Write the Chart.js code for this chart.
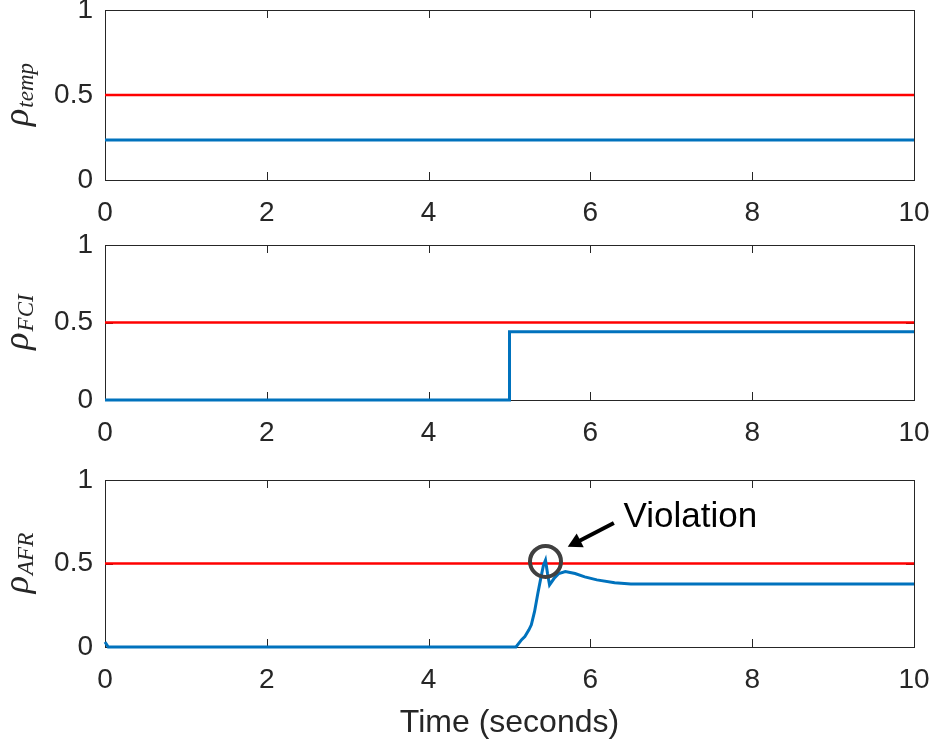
<!DOCTYPE html>
<html>
<head>
<meta charset="utf-8">
<script src="https://cdn.jsdelivr.net/npm/chart.js@4.4.1/dist/chart.umd.min.js"></script>
<style>
  html, body { margin: 0; background: #fff; }
  #wrap { position: relative; width: 933px; height: 751px; }
  canvas { position: absolute; left: 0; }
</style>
</head>
<body>
<div id="wrap">
  <canvas id="temp-chart" width="933" height="230" style="top:0"></canvas>
  <canvas id="fci-chart" width="933" height="220" style="top:230px"></canvas>
  <canvas id="afr-chart" width="933" height="301" style="top:450px"></canvas>
</div>
<script>
"use strict";

// Robustness of three requirements over a 10 s run; red = 0.5 threshold.
const THRESHOLD_T = [0, 10];
const THRESHOLD = [0.5, 0.5];

const TEMP_T = [0, 10];
const TEMP_RHO = [0.235, 0.235];

const FCI_T = [0, 5, 5, 10];
const FCI_RHO = [0, 0, 0.44, 0.44];

const AFR_T = [0, 0.04, 5.08, 5.15, 5.19, 5.24, 5.27, 5.31, 5.35, 5.39, 5.42, 5.445,
  5.47, 5.495, 5.55, 5.61, 5.69, 5.81, 5.93, 6.08, 6.3, 6.5, 10];
const AFR_RHO = [0.03, 0, 0, 0.044, 0.063, 0.103, 0.133, 0.213, 0.32, 0.42, 0.49, 0.52,
  0.44, 0.372, 0.41, 0.44, 0.452, 0.44, 0.42, 0.402, 0.385, 0.377, 0.377];

const TIME_MIN = 0;
const TIME_MAX = 10;
const X_TICK_STEP = 2;
const Y_TICK_STEP = 0.5;

// annotation anchors in data units (time, rho)
const VIOLATION_AT = [5.445, 0.512];
const ARROW_FROM = [6.29, 0.743];
const ARROW_TO = [5.72, 0.6];
const VIOLATION_TEXT_AT = [6.41, 0.775];

const BLUE = "#0072BD";
const RED = "#FF0000";
const AXIS = "#262626";

Chart.defaults.font.family = "'Liberation Sans', Arial, Helvetica, sans-serif";
Chart.defaults.color = AXIS;

function el(id) {
  return document.getElementById(id);
}

function series(t, v, color, width) {
  return {
    data: t.map((x, i) => ({ x, y: v[i] })),
    borderColor: color,
    borderWidth: width,
    pointRadius: 0,
    tension: 0,
    fill: false,
    clip: 4,
  };
}

// MATLAB-style inward tick marks on all four sides
const inwardTicks = {
  id: "inwardTicks",
  beforeDatasetsDraw(chart) {
    const { ctx, chartArea: a, scales: { x, y } } = chart;
    const len = 8;
    ctx.save();
    ctx.strokeStyle = AXIS;
    ctx.lineWidth = 1;
    ctx.beginPath();
    x.ticks.forEach((t) => {
      const p = Math.round(x.getPixelForValue(t.value)) + 0.5;
      ctx.moveTo(p, a.bottom); ctx.lineTo(p, a.bottom - len);
      ctx.moveTo(p, a.top); ctx.lineTo(p, a.top + len);
    });
    y.ticks.forEach((t) => {
      const p = Math.round(y.getPixelForValue(t.value)) + 0.5;
      ctx.moveTo(a.left, p); ctx.lineTo(a.left + len, p);
      ctx.moveTo(a.right, p); ctx.lineTo(a.right - len, p);
    });
    ctx.stroke();
    ctx.restore();
  },
};

// rotated rho label with italic subscript, centred on the plot area
const rhoLabel = {
  id: "rhoLabel",
  afterDraw(chart, args, opts) {
    const { ctx, chartArea } = chart;
    const mid = (chartArea.top + chartArea.bottom) / 2;
    const big = "italic 36px 'Liberation Serif', serif";
    const small = "italic 23px 'Liberation Serif', serif";
    ctx.save();
    ctx.translate(28, mid);
    ctx.rotate(-Math.PI / 2);
    ctx.fillStyle = AXIS;
    ctx.textBaseline = "alphabetic";
    ctx.font = big;
    const w1 = ctx.measureText("ρ").width;
    ctx.font = small;
    const w2 = ctx.measureText(opts.sub).width;
    const x0 = -(w1 + w2) / 2;
    ctx.font = big;
    ctx.fillText("ρ", x0, 0);
    ctx.font = small;
    ctx.fillText(opts.sub, x0 + w1 + 1, 5);
    ctx.restore();
  },
};

const violationMark = {
  id: "violationMark",
  afterDatasetsDraw(chart) {
    const { ctx, scales: { x, y } } = chart;
    const px = (p) => [x.getPixelForValue(p[0]), y.getPixelForValue(p[1])];
    ctx.save();
    const [cx, cy] = px(VIOLATION_AT);
    ctx.strokeStyle = "#404040";
    ctx.lineWidth = 4;
    ctx.beginPath();
    ctx.arc(cx, cy, 15.5, 0, Math.PI * 2);
    ctx.stroke();

    const [ax, ay] = px(ARROW_FROM);
    const [bx, by] = px(ARROW_TO);
    const ang = Math.atan2(by - ay, bx - ax);
    const head = 16;
    ctx.strokeStyle = "#000";
    ctx.fillStyle = "#000";
    ctx.lineWidth = 4;
    ctx.beginPath();
    ctx.moveTo(ax, ay);
    ctx.lineTo(bx - head * 0.8 * Math.cos(ang), by - head * 0.8 * Math.sin(ang));
    ctx.stroke();
    ctx.beginPath();
    ctx.moveTo(bx, by);
    ctx.lineTo(bx - head * Math.cos(ang - 0.5), by - head * Math.sin(ang - 0.5));
    ctx.lineTo(bx - head * Math.cos(ang + 0.5), by - head * Math.sin(ang + 0.5));
    ctx.closePath();
    ctx.fill();

    const [tx, ty] = px(VIOLATION_TEXT_AT);
    ctx.font = "35px 'Liberation Sans', Arial, sans-serif";
    ctx.textAlign = "left";
    ctx.textBaseline = "middle";
    ctx.fillText("Violation", tx, ty);
    ctx.restore();
  },
};

function fixSize(w, h) {
  return (s) => {
    if (w !== null) s.width = w;
    if (h !== null) s.height = h;
    s.paddingTop = 0; s.paddingBottom = 0; s.paddingLeft = 0; s.paddingRight = 0;
  };
}

function axisOpts(extra) {
  return Object.assign({
    type: "linear",
    grid: { display: false, drawTicks: false, tickLength: 0 },
    border: { display: true, color: AXIS, width: 1 },
  }, extra);
}

function makePanel(id, t, v, sub, padTop, xHeight, withTitle, extraPlugins) {
  const ticksFont = { size: 28 };
  return new Chart(el(id), {
    type: "line",
    data: {
      datasets: [series(t, v, BLUE, 3), series(THRESHOLD_T, THRESHOLD, RED, 2.5)],
    },
    options: {
      responsive: false,
      animation: false,
      events: [],
      layout: { padding: { top: padTop, right: 19, bottom: 0, left: 0 } },
      plugins: {
        legend: { display: false },
        tooltip: { enabled: false },
        rhoLabel: { sub },
      },
      scales: {
        x: axisOpts({
          position: "bottom",
          min: TIME_MIN, max: TIME_MAX,
          ticks: { stepSize: X_TICK_STEP, font: ticksFont, padding: 16, maxRotation: 0, autoSkip: false },
          title: {
            display: withTitle, text: "Time (seconds)", font: { size: 32 },
            padding: { top: 0, bottom: 9 },
          },
          afterFit: fixSize(null, xHeight),
        }),
        x2: axisOpts({
          position: "top",
          min: TIME_MIN, max: TIME_MAX,
          ticks: { display: false },
          afterFit: fixSize(null, 0),
        }),
        y: axisOpts({
          position: "left",
          min: 0, max: 1,
          ticks: { stepSize: Y_TICK_STEP, font: ticksFont, padding: 12, callback: (val) => String(val) },
          afterFit: fixSize(105, null),
        }),
        y2: axisOpts({
          position: "right",
          min: 0, max: 1,
          ticks: { display: false },
          afterFit: fixSize(0, null),
        }),
      },
    },
    plugins: [inwardTicks, rhoLabel].concat(extraPlugins || []),
  });
}

makePanel("temp-chart", TEMP_T, TEMP_RHO, "temp", 10, 50, false);
makePanel("fci-chart", FCI_T, FCI_RHO, "FCI", 15, 50, false);
makePanel("afr-chart", AFR_T, AFR_RHO, "AFR", 30, 104, true, [violationMark]);
</script>
</body>
</html>
